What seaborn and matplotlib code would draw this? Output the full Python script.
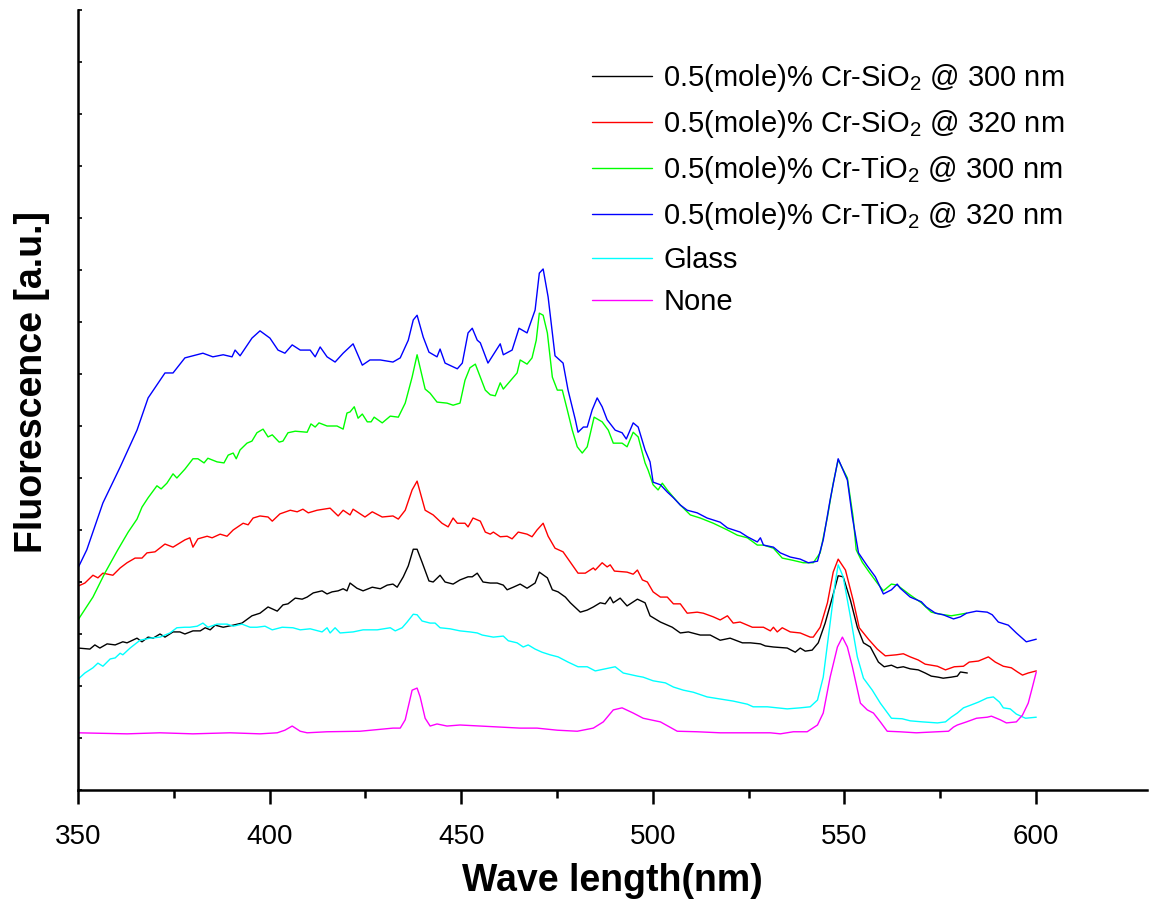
import matplotlib
matplotlib.use("Agg")
import matplotlib.pyplot as plt
import pandas as pd
import seaborn as sns

# spectra: wavelength (nm) and fluorescence (a.u., one y-tick = 1)
wl_sio2_300 = [350.0, 353.1, 354.4, 355.7, 357.6, 359.7, 361.7, 362.8, 365.4, 366.7, 368.3, 369.6, 371.4, 372.7,
               374.8, 376.6, 377.9, 380.0, 381.9, 383.2, 384.5, 385.8, 387.9, 390.5, 392.8, 395.4, 397.5, 399.6,
               402.0, 403.5, 404.8, 406.7, 408.5, 409.8, 411.4, 413.7, 415.0, 416.3, 417.9, 419.2, 420.2, 421.0,
               422.8, 424.4, 426.8, 428.9, 430.7, 432.2, 433.3, 434.9, 436.2, 437.5, 438.5, 439.8, 441.6, 442.7,
               444.5, 445.8, 447.9, 449.7, 451.8, 452.9, 454.2, 455.7, 457.6, 459.4, 461.0, 462.0, 463.6, 465.4,
               467.2, 469.3, 470.4, 472.5, 473.8, 475.3, 477.2, 478.5, 481.1, 482.9, 484.5, 486.3, 487.6, 488.9,
               489.7, 491.5, 493.3, 496.0, 498.0, 499.3, 502.0, 505.1, 507.2, 509.3, 512.4, 515.0, 517.6, 520.2,
               523.4, 525.5, 528.1, 529.4, 531.5, 535.1, 537.2, 538.5, 539.8, 541.6, 543.2, 545.0, 546.9, 548.4,
               549.7, 551.6, 553.4, 555.0, 556.8, 558.9, 560.4, 562.3, 563.8, 565.4, 567.2, 569.3, 571.1, 572.7,
               574.5, 575.8, 577.9, 579.5, 580.3, 582.1]
fl_sio2_300 = [2.73, 2.71, 2.79, 2.73, 2.81, 2.79, 2.85, 2.83, 2.92, 2.85, 2.94, 2.92, 3.00, 2.94,
               3.04, 3.04, 3.00, 3.06, 3.06, 3.12, 3.08, 3.17, 3.13, 3.17, 3.21, 3.35, 3.40, 3.52,
               3.44, 3.56, 3.58, 3.69, 3.67, 3.71, 3.79, 3.83, 3.77, 3.81, 3.83, 3.87, 3.83, 3.98,
               3.88, 3.83, 3.90, 3.87, 3.94, 3.96, 3.90, 4.10, 4.31, 4.63, 4.63, 4.38, 4.02, 4.00,
               4.13, 4.00, 3.96, 4.04, 4.10, 4.10, 4.17, 4.00, 3.98, 3.98, 3.94, 3.85, 3.90, 3.96,
               3.88, 3.98, 4.19, 4.08, 3.85, 3.81, 3.71, 3.60, 3.42, 3.46, 3.52, 3.60, 3.58, 3.71,
               3.60, 3.69, 3.54, 3.67, 3.60, 3.35, 3.23, 3.13, 3.02, 3.04, 2.98, 2.98, 2.88, 2.92,
               2.83, 2.83, 2.81, 2.77, 2.75, 2.73, 2.65, 2.73, 2.67, 2.69, 2.83, 3.21, 3.71, 4.12,
               4.10, 3.65, 3.13, 2.83, 2.75, 2.46, 2.37, 2.40, 2.35, 2.37, 2.33, 2.31, 2.25, 2.19,
               2.17, 2.15, 2.17, 2.19, 2.27, 2.25]

wl_sio2_320 = [350.0, 351.8, 353.9, 355.2, 356.5, 359.1, 361.0, 362.8, 364.9, 366.7, 368.0, 370.1, 372.7, 374.8,
               377.9, 379.2, 380.0, 381.3, 383.7, 385.0, 387.1, 388.9, 390.5, 393.1, 394.4, 395.7, 397.5, 399.6,
               400.7, 402.7, 405.4, 407.2, 408.7, 410.1, 412.4, 415.8, 417.9, 419.2, 421.0, 421.8, 424.9, 426.8,
               429.4, 432.2, 433.6, 435.4, 437.2, 438.5, 440.6, 442.7, 445.0, 446.6, 447.9, 449.0, 451.0, 451.8,
               453.1, 455.0, 456.3, 457.6, 458.4, 460.2, 462.0, 463.3, 464.9, 467.2, 468.5, 469.8, 471.4, 472.7,
               474.5, 476.6, 478.5, 480.5, 482.4, 484.5, 485.0, 486.8, 488.1, 488.9, 490.0, 493.3, 494.9, 496.0,
               497.3, 498.6, 500.1, 502.0, 503.8, 505.4, 507.2, 509.0, 511.6, 513.2, 515.8, 517.6, 519.5, 521.0,
               522.8, 526.0, 528.9, 530.7, 531.5, 532.5, 533.8, 535.9, 538.5, 541.1, 541.9, 543.7, 545.6, 547.1,
               548.4, 550.3, 552.3, 553.9, 556.3, 558.6, 560.7, 563.6, 565.4, 567.2, 569.3, 571.1, 574.3, 576.4,
               578.7, 581.1, 582.6, 585.0, 587.6, 589.4, 591.5, 593.6, 595.2, 596.5, 598.0, 600.1]
fl_sio2_320 = [3.92, 3.98, 4.13, 4.08, 4.17, 4.13, 4.27, 4.37, 4.46, 4.46, 4.56, 4.58, 4.73, 4.67,
               4.81, 4.85, 4.67, 4.83, 4.88, 4.85, 4.92, 4.88, 5.00, 5.13, 5.10, 5.23, 5.27, 5.25,
               5.17, 5.31, 5.38, 5.35, 5.40, 5.33, 5.38, 5.42, 5.27, 5.38, 5.29, 5.40, 5.25, 5.35,
               5.25, 5.27, 5.21, 5.38, 5.77, 5.94, 5.38, 5.29, 5.13, 5.06, 5.23, 5.13, 5.13, 5.06,
               5.23, 5.17, 4.96, 4.92, 4.96, 4.87, 4.88, 4.83, 4.96, 4.92, 4.87, 5.00, 5.13, 4.88,
               4.65, 4.58, 4.38, 4.17, 4.17, 4.27, 4.23, 4.37, 4.29, 4.33, 4.21, 4.19, 4.15, 4.23,
               4.04, 4.00, 3.81, 3.71, 3.71, 3.58, 3.58, 3.40, 3.42, 3.40, 3.33, 3.27, 3.35, 3.21,
               3.23, 3.13, 3.13, 3.06, 3.13, 3.04, 3.12, 3.04, 3.02, 2.94, 2.94, 3.13, 3.60, 4.19,
               4.44, 4.23, 3.65, 3.12, 2.90, 2.71, 2.58, 2.60, 2.62, 2.56, 2.50, 2.42, 2.38, 2.31,
               2.37, 2.38, 2.46, 2.48, 2.56, 2.46, 2.38, 2.35, 2.27, 2.21, 2.25, 2.29]

wl_tio2_300 = [350.0, 353.9, 357.0, 360.4, 363.1, 365.4, 366.7, 368.3, 370.6, 371.7, 373.2, 374.8, 375.8, 377.9,
               380.0, 381.3, 382.9, 383.9, 386.3, 388.1, 389.2, 390.5, 391.3, 392.3, 394.1, 395.4, 396.7, 398.3,
               399.6, 400.7, 402.5, 403.5, 404.8, 406.7, 409.8, 410.8, 411.9, 412.9, 415.0, 417.6, 419.2, 420.2,
               421.0, 422.1, 423.1, 424.2, 425.5, 426.5, 427.3, 429.4, 431.5, 433.6, 435.4, 437.2, 438.5, 440.6,
               441.9, 443.7, 446.3, 447.9, 449.7, 451.0, 452.3, 453.7, 456.3, 457.6, 458.9, 460.2, 461.0, 464.6,
               465.4, 467.2, 468.5, 469.6, 470.4, 471.4, 472.5, 473.8, 475.1, 476.4, 477.7, 479.0, 480.3, 481.6,
               482.9, 484.7, 486.8, 488.4, 489.7, 492.0, 493.3, 494.9, 496.2, 498.0, 498.8, 500.1, 501.4, 502.5,
               503.8, 505.4, 507.2, 509.8, 512.4, 515.8, 519.5, 522.1, 524.7, 527.3, 528.9, 531.5, 533.8, 536.4,
               539.3, 541.9, 543.7, 545.6, 547.1, 548.4, 550.8, 552.3, 553.1, 554.7, 556.5, 558.6, 560.2, 562.3,
               563.8, 565.4, 567.2, 570.1, 572.7, 575.1, 577.9, 580.3, 581.9]
fl_tio2_300 = [3.27, 3.71, 4.17, 4.62, 4.96, 5.21, 5.44, 5.62, 5.85, 5.79, 5.90, 6.08, 6.00, 6.17,
               6.37, 6.37, 6.29, 6.38, 6.31, 6.29, 6.44, 6.48, 6.37, 6.54, 6.67, 6.71, 6.87, 6.94,
               6.79, 6.83, 6.69, 6.71, 6.87, 6.90, 6.88, 7.04, 6.98, 7.06, 7.00, 7.00, 6.94, 7.25,
               7.27, 7.37, 7.15, 7.23, 7.08, 7.08, 7.17, 7.06, 7.19, 7.17, 7.44, 7.94, 8.37, 7.71,
               7.63, 7.46, 7.44, 7.40, 7.44, 7.88, 8.12, 8.19, 7.69, 7.60, 7.58, 7.83, 7.71, 8.02,
               8.27, 8.19, 8.31, 8.65, 9.17, 9.13, 8.79, 7.94, 7.69, 7.69, 7.31, 6.92, 6.60, 6.48,
               6.60, 7.17, 7.08, 6.92, 6.67, 6.67, 6.60, 6.88, 6.79, 6.29, 6.15, 5.87, 5.77, 5.90,
               5.77, 5.63, 5.48, 5.29, 5.23, 5.13, 5.00, 4.90, 4.85, 4.71, 4.71, 4.65, 4.46, 4.42,
               4.37, 4.37, 4.56, 5.25, 5.90, 6.35, 6.00, 5.25, 4.62, 4.38, 4.19, 3.98, 3.83, 3.96,
               3.94, 3.85, 3.75, 3.60, 3.42, 3.38, 3.35, 3.38, 3.40]

wl_tio2_320 = [350.0, 352.3, 356.5, 361.0, 365.4, 368.3, 372.7, 374.8, 377.9, 382.6, 385.2, 387.9, 390.2, 391.0,
               392.3, 395.4, 397.5, 400.1, 402.2, 404.0, 405.9, 408.0, 410.6, 411.9, 413.2, 415.0, 417.1, 419.2,
               421.8, 424.2, 426.2, 428.9, 432.2, 434.1, 436.2, 437.5, 438.5, 440.1, 441.6, 443.7, 444.5, 445.8,
               449.0, 450.3, 451.8, 452.9, 454.2, 455.0, 457.0, 460.2, 461.0, 463.3, 465.1, 467.2, 469.3, 470.4,
               471.4, 472.7, 474.5, 476.6, 477.9, 479.8, 480.5, 481.9, 482.9, 484.2, 485.5, 486.8, 488.1, 490.2,
               492.0, 493.1, 494.9, 496.2, 498.0, 499.3, 500.1, 502.0, 503.8, 505.4, 507.2, 509.0, 511.6, 514.2,
               517.6, 519.5, 522.8, 524.7, 527.3, 528.1, 528.9, 531.5, 533.3, 535.9, 538.5, 540.6, 543.0, 544.5,
               546.3, 548.4, 550.8, 552.1, 553.7, 556.0, 558.1, 560.2, 562.3, 563.8, 564.6, 567.2, 570.1, 571.4,
               573.8, 575.8, 578.5, 580.3, 581.9, 584.5, 587.3, 588.6, 590.2, 592.8, 594.9, 597.5, 600.1]
fl_tio2_320 = [4.27, 4.62, 5.52, 6.21, 6.92, 7.54, 8.02, 8.02, 8.31, 8.40, 8.33, 8.37, 8.33, 8.46,
               8.35, 8.69, 8.83, 8.69, 8.46, 8.40, 8.56, 8.46, 8.46, 8.33, 8.52, 8.33, 8.23, 8.40,
               8.58, 8.17, 8.27, 8.27, 8.23, 8.31, 8.65, 9.04, 9.13, 8.71, 8.42, 8.33, 8.48, 8.21,
               8.10, 8.21, 8.79, 8.88, 8.65, 8.60, 8.21, 8.58, 8.37, 8.46, 8.88, 8.79, 9.23, 9.94,
               10.02, 9.48, 8.35, 8.21, 7.69, 7.12, 6.88, 6.98, 6.98, 7.31, 7.54, 7.37, 7.12, 6.92,
               6.87, 6.75, 7.06, 6.98, 6.54, 6.31, 5.92, 5.87, 5.73, 5.62, 5.48, 5.38, 5.33, 5.23,
               5.15, 5.04, 4.96, 4.87, 4.77, 4.85, 4.71, 4.67, 4.56, 4.48, 4.44, 4.37, 4.40, 4.81,
               5.58, 6.37, 5.96, 5.25, 4.56, 4.31, 4.10, 3.77, 3.85, 3.96, 3.88, 3.71, 3.62, 3.52,
               3.40, 3.37, 3.29, 3.33, 3.40, 3.44, 3.42, 3.37, 3.23, 3.17, 3.02, 2.85, 2.90]

wl_glass = [350.0, 351.8, 353.9, 355.2, 356.5, 358.4, 359.7, 361.0, 361.7, 363.6, 366.2, 368.8, 371.4, 374.0,
            375.8, 377.9, 379.2, 381.1, 382.6, 383.9, 386.3, 388.9, 390.5, 392.8, 394.9, 396.7, 398.8, 400.7,
            403.3, 406.1, 408.0, 410.6, 413.7, 415.0, 415.8, 417.1, 418.4, 421.8, 424.4, 428.1, 431.5, 432.8,
            434.6, 435.9, 437.5, 438.5, 439.8, 441.9, 443.2, 444.5, 447.1, 449.7, 452.3, 454.2, 455.5, 458.4,
            461.0, 462.3, 464.6, 466.2, 467.5, 469.3, 471.1, 473.2, 475.3, 477.9, 480.5, 482.9, 485.0, 487.6,
            490.2, 492.3, 496.0, 497.5, 500.1, 503.3, 505.4, 508.0, 510.6, 514.2, 517.6, 521.0, 524.7, 526.2,
            529.9, 532.5, 535.1, 538.5, 541.1, 543.0, 544.5, 546.3, 547.6, 548.4, 549.7, 551.6, 553.4, 555.0,
            557.3, 559.4, 562.3, 565.1, 567.2, 570.4, 574.3, 576.4, 577.9, 579.5, 581.1, 582.9, 585.0, 587.3,
            588.9, 590.5, 591.5, 593.3, 594.9, 597.3, 600.1]
fl_glass = [2.13, 2.25, 2.35, 2.44, 2.38, 2.52, 2.54, 2.63, 2.60, 2.73, 2.88, 2.92, 2.94, 3.02,
            3.12, 3.13, 3.13, 3.15, 3.21, 3.13, 3.19, 3.19, 3.15, 3.19, 3.13, 3.13, 3.15, 3.08,
            3.13, 3.12, 3.08, 3.10, 3.04, 3.12, 3.02, 3.12, 3.02, 3.04, 3.08, 3.08, 3.12, 3.06,
            3.12, 3.23, 3.38, 3.37, 3.25, 3.21, 3.21, 3.12, 3.10, 3.06, 3.04, 3.02, 2.98, 2.94,
            2.96, 2.87, 2.83, 2.75, 2.79, 2.71, 2.65, 2.60, 2.56, 2.46, 2.37, 2.37, 2.29, 2.33,
            2.37, 2.25, 2.19, 2.17, 2.10, 2.06, 1.98, 1.92, 1.88, 1.79, 1.75, 1.71, 1.65, 1.60,
            1.60, 1.58, 1.56, 1.58, 1.60, 1.73, 2.17, 3.21, 3.98, 4.33, 4.10, 3.33, 2.56, 2.15,
            1.92, 1.67, 1.38, 1.37, 1.33, 1.31, 1.29, 1.31, 1.40, 1.48, 1.58, 1.63, 1.69, 1.77,
            1.79, 1.69, 1.58, 1.56, 1.46, 1.38, 1.40]

wl_none = [350.0, 362.8, 371.4, 380.0, 389.7, 397.5, 402.0, 404.0, 405.9, 408.0, 409.8, 415.0, 423.6, 432.2,
           434.1, 435.4, 437.2, 438.5, 439.3, 440.6, 441.9, 443.7, 446.3, 449.7, 455.0, 460.2, 465.4, 469.8,
           475.1, 480.3, 484.5, 487.1, 489.7, 492.0, 494.9, 497.5, 502.0, 506.4, 511.6, 517.6, 524.7, 530.7,
           533.3, 536.7, 540.3, 543.0, 544.5, 546.3, 548.2, 549.5, 550.8, 552.1, 554.2, 556.0, 557.6, 559.4,
           561.2, 564.4, 568.8, 574.3, 577.2, 578.5, 579.5, 581.9, 584.5, 587.3, 588.4, 590.7, 592.3, 594.9,
           596.5, 598.0, 599.1, 600.1]
fl_none = [1.10, 1.08, 1.10, 1.08, 1.10, 1.08, 1.10, 1.15, 1.23, 1.13, 1.10, 1.12, 1.13, 1.19,
           1.19, 1.35, 1.92, 1.96, 1.79, 1.38, 1.23, 1.27, 1.23, 1.25, 1.23, 1.21, 1.19, 1.19,
           1.15, 1.13, 1.19, 1.31, 1.54, 1.58, 1.48, 1.38, 1.31, 1.13, 1.12, 1.10, 1.10, 1.10,
           1.08, 1.12, 1.12, 1.25, 1.48, 2.17, 2.75, 2.94, 2.75, 2.37, 1.67, 1.54, 1.48, 1.31,
           1.13, 1.12, 1.10, 1.12, 1.13, 1.21, 1.25, 1.31, 1.38, 1.40, 1.42, 1.35, 1.29, 1.31,
           1.44, 1.67, 1.98, 2.27]

labels = ["0.5(mole)% Cr-SiO$_2$ @ 300 nm", "0.5(mole)% Cr-SiO$_2$ @ 320 nm",
          "0.5(mole)% Cr-TiO$_2$ @ 300 nm", "0.5(mole)% Cr-TiO$_2$ @ 320 nm",
          "Glass", "None"]
colors = ["#000000", "#ff0000", "#00ff00", "#0000ff", "#00ffff", "#ff00ff"]

frames = []
for lab, wl, fl in zip(labels,
                       [wl_sio2_300, wl_sio2_320, wl_tio2_300, wl_tio2_320, wl_glass, wl_none],
                       [fl_sio2_300, fl_sio2_320, fl_tio2_300, fl_tio2_320, fl_glass, fl_none]):
    frames.append(pd.DataFrame({"wl": wl, "fl": fl, "sample": lab}))
df = pd.concat(frames, ignore_index=True)

sns.set_style("ticks")
plt.rcParams["font.family"] = ["Liberation Sans", "DejaVu Sans"]
plt.rcParams["mathtext.fontset"] = "custom"
plt.rcParams["mathtext.rm"] = "Liberation Sans"
plt.rcParams["mathtext.it"] = "Liberation Sans:italic"
plt.rcParams["mathtext.bf"] = "Liberation Sans:bold"
plt.rcParams["text.color"] = "black"
plt.rcParams["axes.labelcolor"] = "black"

fig = plt.figure(figsize=(11.59, 9.0), dpi=100)
ax = fig.add_axes([78 / 1159, 110 / 900, 1069 / 1159, 780 / 900])

for lab, col in zip(labels, colors):
    sub = df[df["sample"] == lab]
    sns.lineplot(data=sub, x="wl", y="fl", color=col, linewidth=1.0, label=lab,
                 estimator=None, sort=False, ax=ax)

ax.set_xlim(350, 629)
ax.set_ylim(0, 15)
sns.despine(ax=ax)
for side in ["left", "bottom"]:
    ax.spines[side].set_linewidth(1.8)
    ax.spines[side].set_color("black")

ax.set_xticks([350, 400, 450, 500, 550, 600])
ax.set_xticks([375, 425, 475, 525, 575], minor=True)
ax.tick_params(axis="x", which="major", direction="out", length=10, width=1.8,
               labelsize=20, pad=14.5, color="black", labelcolor="black")
ax.tick_params(axis="x", which="minor", direction="out", length=6, width=1.8, color="black")
ax.set_yticks(range(0, 16))
ax.tick_params(axis="y", which="major", direction="in", length=3, width=1.2,
               labelleft=False, color="black")

ax.set_xlabel("Wave length(nm)", fontsize=27, fontweight="bold", labelpad=9)
ax.set_ylabel("Fluorescence [a.u.]", fontsize=27, fontweight="bold", labelpad=20)
ax.yaxis.label.set_y(0.523)

ax.legend(loc="upper left", bbox_to_anchor=(592 / 1159, 1 - 62 / 900),
          bbox_transform=fig.transFigure, frameon=False, fontsize=21,
          handlelength=2.05, handletextpad=0.4, labelspacing=0.48,
          borderpad=0, borderaxespad=0)

fig.savefig("out.png", dpi=100)
